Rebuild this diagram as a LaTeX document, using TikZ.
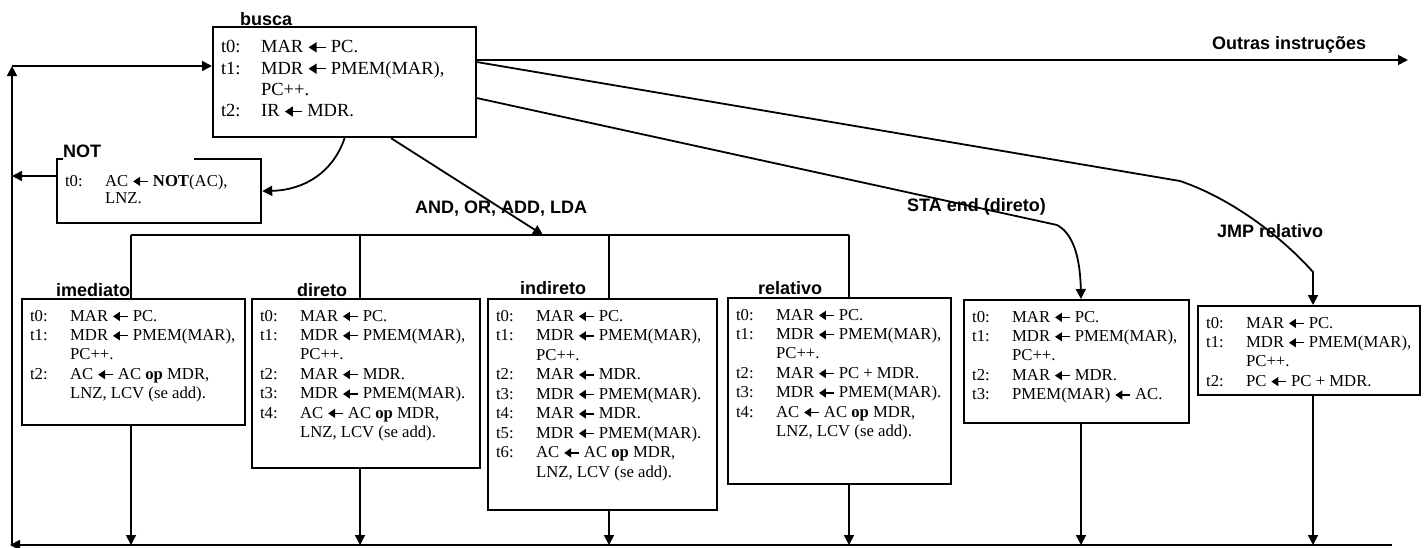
\documentclass[tikz,border=0pt]{standalone}
\usepackage{fontspec}
\setmainfont{Liberation Serif}
\newfontfamily\lblfont{Liberation Sans}
\usetikzlibrary{arrows.meta}

% transfer arrows used inside the micro-step text
\newsavebox{\arrsmall}
\newsavebox{\arrbig}
\newcommand{\towards}{\unskip\ \usebox{\arrsmall}\ \ignorespaces}
\newcommand{\towardsB}{\unskip\ \usebox{\arrbig}\ \ignorespaces}

% one micro-step line: label column, then the transfer
\newcommand{\st}[2]{\makebox[40pt][l]{#1}#2}
% continuation line aligned with the transfer column
\newcommand{\cn}[1]{\hspace*{40pt}#1}
% \boxbody[font size]{width}{height}{first baseline}{baselineskip}{lines}
\newcommand{\boxbody}[6][16.7]{\parbox[c][#3pt][t]{#2pt}{\fontsize{#1}{#5}\selectfont\raggedright\leftskip=8pt\relax\rule{0pt}{#4pt}#6\par}}

\tikzset{
  stepbox/.style={draw, line width=2.2pt, inner sep=0pt, anchor=north west},
  lbl/.style={font=\lblfont\bfseries\fontsize{18}{20}\selectfont, inner sep=0pt, anchor=base west},
  conn/.style={line width=1.8pt},
  arr/.style={conn, -{Triangle[length=10pt,width=10pt]}}
}

\begin{document}
\sbox{\arrsmall}{\begin{pgfpicture}%
  \pgfsetbaseline{0pt}%
  \pgfsetlinewidth{1.3pt}%
  \pgfsetarrowsend{Triangle[length=7pt,width=9pt]}%
  \pgfpathmoveto{\pgfpoint{15pt}{4.7pt}}%
  \pgfpathlineto{\pgfpoint{0pt}{4.7pt}}%
  \pgfusepath{stroke}%
\end{pgfpicture}}%
\sbox{\arrbig}{\begin{pgfpicture}%
  \pgfsetbaseline{0pt}%
  \pgfsetlinewidth{1.4pt}%
  \pgfsetarrowsend{Triangle[length=8pt,width=10pt]}%
  \pgfpathmoveto{\pgfpoint{17pt}{5.3pt}}%
  \pgfpathlineto{\pgfpoint{0pt}{5.3pt}}%
  \pgfusepath{stroke}%
\end{pgfpicture}}%
\begin{tikzpicture}[x=1pt,y=-1pt]
\useasboundingbox (0,0) rectangle (1428,547);

% column positions of the branches
\coordinate (cImm) at (131,235);
\coordinate (cDir) at (360,235);
\coordinate (cInd) at (609,235);
\coordinate (cRel) at (849,235);
\coordinate (cSta) at (1081,235);
\coordinate (cJmp) at (1313,235);
\coordinate (andHit) at (543,235);
% return path
\coordinate (retTop) at (12,66);
\coordinate (retBot) at (12,545);
\coordinate (busEnd) at (10,545);
\coordinate (busStart) at (1392,545);
\coordinate (notRet) at (12,176);
\coordinate (outEnd) at (1408,60);

% labels
\node[lbl] (lBusca) at (240,25) {busca};
\node[lbl] (lOut) at (1212,49) {Outras instruções};
\node[lbl] (lAnd) at (415,213) {AND, OR, ADD, LDA};
\node[lbl] (lSta) at (907,211) {STA end (direto)};
\node[lbl] (lJmp) at (1217,237) {JMP relativo};
\node[lbl] (lImm) at (56,296) {imediato};
\node[lbl] (lDir) at (297,296) {direto};
\node[lbl] (lInd) at (520,294) {indireto};
\node[lbl] (lRel) at (758,294) {relativo};

% micro-program boxes
\node[stepbox] (busca) at (212,26) {\boxbody[18.5]{263}{110}{25.5}{21.4}{%
\st{t0:}{MAR \towardsB PC.}\\
\st{t1:}{MDR \towardsB PMEM(MAR),}\\
\cn{PC++.}\\
\st{t2:}{IR \towardsB MDR.}}};

\node[stepbox] (not) at (56,158) {\boxbody{204}{64}{27}{17}{%
\st{t0:}{AC \towards \textbf{NOT}(AC),}\\
\cn{LNZ.}}};
\node[lbl, fill=white, inner ysep=3pt] (lNot) at (63,157) {\makebox[131pt][l]{NOT}};

\node[stepbox] (imediato) at (21,298) {\boxbody{223}{126}{22}{19.4}{%
\st{t0:}{MAR \towards PC.}\\
\st{t1:}{MDR \towards PMEM(MAR),}\\
\cn{PC++.}\\
\st{t2:}{AC \towards AC \textbf{op} MDR,}\\
\cn{LNZ, LCV (se add).}}};

\node[stepbox] (direto) at (251,298) {\boxbody{228}{169}{22}{19.4}{%
\st{t0:}{MAR \towards PC.}\\
\st{t1:}{MDR \towards PMEM(MAR),}\\
\cn{PC++.}\\
\st{t2:}{MAR \towards MDR.}\\
\st{t3:}{MDR \towards PMEM(MAR).}\\
\st{t4:}{AC \towards AC \textbf{op} MDR,}\\
\cn{LNZ, LCV (se add).}}};

\node[stepbox] (indireto) at (487,298) {\boxbody{229}{211}{22}{19.5}{%
\st{t0:}{MAR \towards PC.}\\
\st{t1:}{MDR \towards PMEM(MAR),}\\
\cn{PC++.}\\
\st{t2:}{MAR \towards MDR.}\\
\st{t3:}{MDR \towards PMEM(MAR).}\\
\st{t4:}{MAR \towards MDR.}\\
\st{t5:}{MDR \towards PMEM(MAR).}\\
\st{t6:}{AC \towards AC \textbf{op} MDR,}\\
\cn{LNZ, LCV (se add).}}};

\node[stepbox] (relativo) at (727,297) {\boxbody{223}{186}{22}{19.4}{%
\st{t0:}{MAR \towards PC.}\\
\st{t1:}{MDR \towards PMEM(MAR),}\\
\cn{PC++.}\\
\st{t2:}{MAR \towards PC + MDR.}\\
\st{t3:}{MDR \towards PMEM(MAR).}\\
\st{t4:}{AC \towards AC \textbf{op} MDR,}\\
\cn{LNZ, LCV (se add).}}};

\node[stepbox] (sta) at (963,299) {\boxbody{225}{123}{22}{19.4}{%
\st{t0:}{MAR \towards PC.}\\
\st{t1:}{MDR \towards PMEM(MAR),}\\
\cn{PC++.}\\
\st{t2:}{MAR \towards MDR.}\\
\st{t3:}{PMEM(MAR) \towards AC.}}};

\node[stepbox] (jmp) at (1197,305) {\boxbody{222}{89}{22}{19.4}{%
\st{t0:}{MAR \towards PC.}\\
\st{t1:}{MDR \towards PMEM(MAR),}\\
\cn{PC++.}\\
\st{t2:}{PC \towards PC + MDR.}}};

% return to fetch
\draw[arr] (busStart) -- (busEnd);
\draw[arr] (retBot) -- (retTop);
\draw[arr] (retTop) -- (retTop -| busca.west);
\draw[arr] (notRet -| not.west) -- (notRet);

% dispatch from fetch
\draw[arr] (outEnd -| busca.east) -- (outEnd);
\draw[arr] (busca.south) .. controls (333,172) and (305,190) .. (not.east);
\draw[arr] ([xshift=46.5pt]busca.south) -- (andHit);
\draw[arr] ([yshift=-16pt]busca.east) -- (1057,225) .. controls (1070,232) and (1080,250) .. (cSta |- sta.north);
\draw[arr] ([yshift=20pt]busca.east) -- (1180,181) .. controls (1230,198) and (1280,235) .. (1313,272) -- (cJmp |- jmp.north);

% addressing-mode branches
\draw[conn] (cImm) -- (cRel);
\draw[conn] (cImm) -- (cImm |- imediato.north);
\draw[conn] (cDir) -- (cDir |- direto.north);
\draw[conn] (cInd) -- (cInd |- indireto.north);
\draw[conn] (cRel) -- (cRel |- relativo.north);

% exits to the return bus
\draw[arr] (cImm |- imediato.south) -- (cImm |- busStart);
\draw[arr] (cDir |- direto.south) -- (cDir |- busStart);
\draw[arr] (cInd |- indireto.south) -- (cInd |- busStart);
\draw[arr] (cRel |- relativo.south) -- (cRel |- busStart);
\draw[arr] (cSta |- sta.south) -- (cSta |- busStart);
\draw[arr] (cJmp |- jmp.south) -- (cJmp |- busStart);
\end{tikzpicture}
\end{document}
